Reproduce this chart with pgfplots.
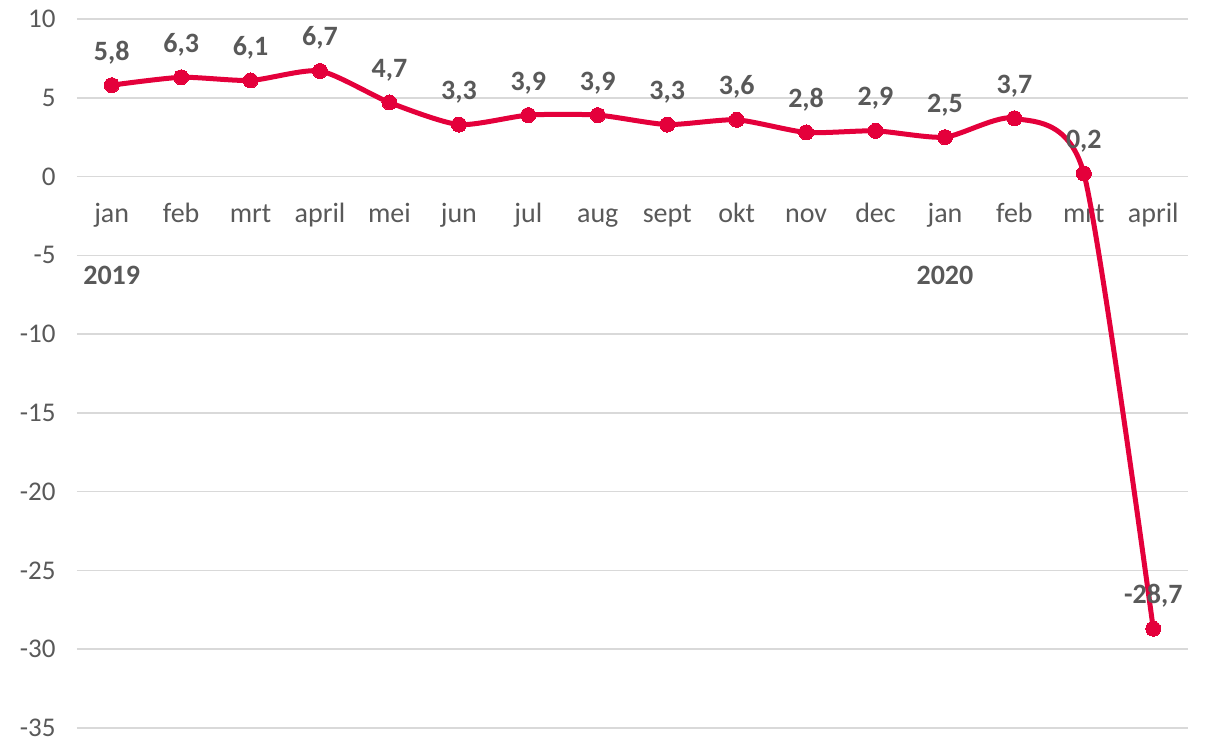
\documentclass[border=0pt]{standalone}
\usepackage{fontspec}
\setmainfont{Carlito}
\usepackage{pgfplots}
\pgfplotsset{compat=1.18}
\definecolor{linered}{RGB}{228,0,59}
\definecolor{txtgray}{RGB}{89,89,89}
\definecolor{gridgray}{RGB}{217,217,217}

\pgfplotstableread{
x y lab
0 5.8 5,8
1 6.3 6,3
2 6.1 6,1
3 6.7 6,7
4 4.7 4,7
5 3.3 3,3
6 3.9 3,9
7 3.9 3,9
8 3.3 3,3
9 3.6 3,6
10 2.8 2,8
11 2.9 2,9
12 2.5 2,5
13 3.7 3,7
14 0.2 0,2
15 -28.7 -28,7
}\growth

\newcommand{\lblfont}{\fontsize{28}{32}\selectfont}

\begin{document}
\begin{tikzpicture}
\begin{axis}[
    scale only axis,
    width=1111pt, height=709pt,
    xmin=-0.5, xmax=15.5,
    ymin=-35, ymax=10,
    ytick={-35,-30,...,10},
    xtick={0,...,15},
    xticklabels={jan,feb,mrt,april,mei,jun,jul,aug,sept,okt,nov,dec,jan,feb,mrt,april},
    axis x line=middle,
    axis y line=left,
    hide obscured y ticks=false,
    hide obscured x ticks=false,
    axis line style={draw=none,-},
    major tick length=0pt,
    ymajorgrids,
    grid style={gridgray, line width=1.6pt},
    tick label style={font=\lblfont, text=txtgray},
    xticklabel style={anchor=base, yshift=-46pt},
    yticklabel style={anchor=east, xshift=-18pt, font=\fontsize{27}{30}\selectfont, inner ysep=0pt},
    /pgf/number format/assume math mode=true,
    clip=false,
    nodes near coords style={font=\lblfont\bfseries, text=txtgray, anchor=base, yshift=25pt},
]
\addplot[linered, line width=5pt, smooth, tension=0.4, mark=*, mark size=7.5pt,
    mark options={fill=linered, draw=linered, line width=0pt},
    point meta=explicit symbolic,
    nodes near coords]
    table[x=x, y=y, meta=lab] {\growth};
\node[anchor=base, font=\lblfont\bfseries, text=txtgray] at (axis cs:0,-6.85) {2019};
\node[anchor=base, font=\lblfont\bfseries, text=txtgray] at (axis cs:12,-6.85) {2020};
\end{axis}
\pgfresetboundingbox
\path[use as bounding box] ([shift={(-77pt,-13pt)}]current axis.south west) rectangle ++(1206pt,741pt);
\end{tikzpicture}
\end{document}
